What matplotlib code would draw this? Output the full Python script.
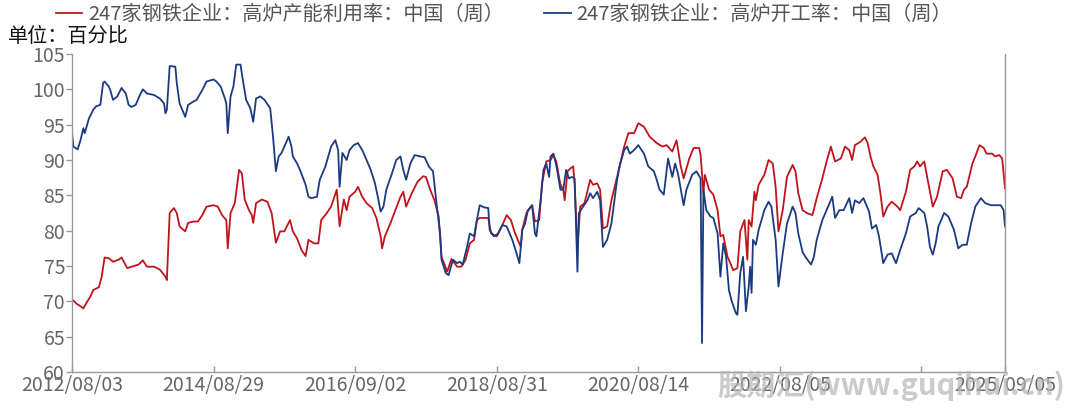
import matplotlib
matplotlib.use("Agg")
import matplotlib.pyplot as plt

plt.rcParams['font.family'] = ['Noto Sans CJK SC', 'DejaVu Sans']

# ---------------- data (weekly observation index, percent) ----------------
tick_pos = [0, 100, 200, 300, 400, 500, 600, 659]
tick_labels = ['2012/08/03', '2014/08/29', '2016/09/02', '2018/08/31',
               '2020/08/14', '2022/08/05', '', '2025/09/05']

util_idx = [0, 3, 6, 8, 10, 13, 15, 19, 21, 23, 26, 29, 33, 35, 39, 42, 47, 50, 53, 58,
            62, 66, 67, 69, 72, 74, 76, 80, 82, 86, 89, 92, 95, 100, 103, 106, 109, 110, 112, 115,
            118, 120, 122, 125, 127, 128, 130, 134, 138, 141, 144, 147, 150, 154, 156, 159, 162, 165, 167, 171,
            174, 176, 180, 183, 187, 189, 192, 194, 196, 200, 202, 205, 208, 212, 215, 218, 219, 221, 225, 228,
            232, 234, 236, 240, 244, 248, 250, 253, 256, 259, 261, 265, 268, 272, 275, 278, 281, 284, 286, 288,
            294, 296, 300, 304, 307, 310, 313, 317, 318, 321, 325, 327, 330, 332, 335, 338, 340, 342, 345, 347,
            348, 350, 352, 354, 355, 357, 359, 362, 366, 368, 371, 373, 375, 378, 381, 385, 390, 393, 397, 400,
            404, 408, 413, 417, 420, 424, 427, 430, 432, 436, 439, 443, 444, 446, 447, 450, 453, 456, 458, 460,
            463, 465, 467, 470, 472, 475, 477, 478, 480, 482, 483, 485, 489, 492, 495, 497, 499, 502, 505, 509,
            511, 513, 516, 519, 523, 526, 530, 533, 536, 539, 543, 546, 549, 551, 553, 557, 560, 562, 564, 566,
            569, 571, 573, 576, 579, 583, 585, 589, 592, 595, 597, 599, 602, 604, 608, 611, 615, 618, 622, 625,
            628, 630, 632, 636, 638, 641, 644, 646, 650, 652, 655, 657, 659]
util_val = [70.3, 69.7, 69.3, 69.0, 69.7, 70.7, 71.6, 72.0, 73.5, 76.2, 76.1, 75.6, 75.9, 76.2, 74.7, 74.9, 75.2, 75.8, 74.9, 74.9,
            74.5, 73.5, 73.0, 82.5, 83.2, 82.5, 80.6, 79.9, 81.1, 81.3, 81.3, 82.2, 83.4, 83.6, 83.4, 82.2, 81.5, 77.5, 82.5, 83.9,
            88.6, 88.1, 84.4, 82.9, 82.2, 81.1, 83.9, 84.4, 84.1, 82.5, 78.3, 79.9, 79.9, 81.5, 79.9, 78.9, 77.3, 76.4, 78.7, 78.2,
            78.2, 81.5, 82.5, 83.4, 85.8, 80.6, 84.4, 82.9, 84.8, 85.5, 86.2, 84.8, 83.9, 83.2, 81.8, 79.2, 77.5, 79.2, 81.1, 82.7,
            84.8, 85.5, 83.4, 85.3, 86.9, 87.7, 87.6, 85.8, 84.3, 82.0, 76.3, 74.2, 76.0, 74.9, 74.9, 75.9, 78.2, 78.7, 81.5, 81.8,
            81.8, 79.6, 79.2, 80.8, 82.2, 81.5, 79.6, 77.7, 80.1, 82.5, 83.6, 81.3, 81.5, 86.7, 89.8, 90.0, 90.7, 89.8, 86.5, 85.8,
            84.3, 88.4, 88.8, 89.1, 86.7, 77.7, 83.4, 83.9, 87.2, 86.5, 86.7, 85.8, 80.3, 80.6, 84.3, 87.6, 91.9, 93.8, 93.8, 95.2,
            94.7, 93.3, 92.4, 91.9, 92.1, 91.2, 92.8, 89.1, 87.4, 90.2, 91.7, 91.7, 90.7, 85.3, 87.9, 85.8, 85.1, 82.9, 79.2, 79.4,
            76.3, 75.4, 74.4, 74.7, 79.9, 81.5, 75.9, 81.5, 80.6, 85.5, 84.3, 86.5, 87.9, 90.0, 89.5, 86.2, 79.9, 82.9, 87.6, 89.3,
            88.4, 85.3, 82.9, 82.5, 82.2, 84.6, 87.4, 89.8, 91.9, 89.8, 90.2, 91.9, 91.4, 90.0, 92.1, 92.6, 93.2, 92.4, 90.5, 89.1,
            87.9, 85.3, 82.0, 83.4, 84.1, 83.4, 82.9, 85.5, 88.6, 89.1, 89.8, 89.1, 89.8, 87.6, 83.4, 84.8, 88.4, 88.6, 87.4, 84.8,
            84.6, 85.8, 86.2, 89.5, 90.5, 92.1, 91.7, 90.9, 90.9, 90.5, 90.7, 90.2, 86.0]

oper_idx = [0, 1, 4, 6, 8, 9, 12, 15, 17, 20, 22, 23, 26, 27, 29, 32, 35, 38, 40, 42,
            45, 48, 50, 53, 58, 62, 65, 66, 67, 69, 73, 74, 76, 80, 82, 86, 88, 92, 95, 100,
            102, 105, 108, 109, 110, 112, 114, 116, 119, 121, 123, 126, 128, 130, 133, 136, 140, 142, 144, 146,
            148, 150, 153, 155, 156, 159, 161, 165, 167, 169, 173, 175, 179, 181, 183, 186, 188, 189, 191, 194,
            196, 199, 202, 205, 207, 211, 214, 216, 218, 220, 222, 226, 229, 232, 234, 236, 239, 242, 246, 249,
            252, 255, 258, 260, 261, 264, 266, 269, 272, 274, 276, 279, 281, 284, 286, 288, 291, 294, 295, 298,
            301, 304, 307, 311, 314, 316, 318, 320, 322, 325, 327, 328, 331, 333, 335, 337, 338, 340, 342, 345,
            347, 349, 351, 353, 355, 357, 358, 361, 364, 366, 368, 371, 373, 375, 378, 381, 385, 387, 390, 392,
            394, 397, 400, 404, 407, 411, 413, 415, 418, 421, 424, 426, 428, 432, 434, 438, 441, 444, 445, 446,
            448, 451, 453, 456, 458, 460, 462, 464, 466, 469, 470, 472, 474, 476, 478, 479, 480, 481, 483, 485,
            489, 492, 494, 497, 499, 502, 505, 509, 511, 513, 516, 518, 522, 524, 526, 530, 533, 537, 539, 542,
            545, 549, 551, 553, 556, 559, 563, 565, 568, 570, 573, 576, 579, 582, 585, 589, 592, 596, 598, 602,
            604, 606, 608, 610, 612, 616, 619, 623, 626, 629, 632, 635, 638, 642, 645, 649, 652, 656, 658, 659]
oper_val = [93.8, 91.9, 91.5, 92.8, 94.5, 93.8, 95.9, 97.1, 97.6, 97.8, 100.9, 101.1, 100.4, 99.9, 98.5, 99.0, 100.2, 99.4, 97.8, 97.5,
            97.8, 99.2, 100.0, 99.4, 99.2, 98.7, 98.0, 96.6, 97.1, 103.3, 103.2, 100.9, 98.0, 96.1, 97.8, 98.3, 98.5, 99.9, 101.1, 101.4,
            101.1, 100.4, 98.7, 98.0, 93.8, 99.0, 100.4, 103.5, 103.5, 100.9, 98.5, 97.3, 95.4, 98.7, 99.0, 98.5, 97.3, 93.3, 88.4, 90.5,
            91.0, 91.9, 93.3, 91.9, 90.5, 89.5, 88.6, 86.5, 84.8, 84.6, 84.8, 87.2, 89.1, 90.5, 91.9, 92.8, 91.4, 86.2, 91.0, 90.0,
            91.4, 92.1, 92.4, 91.4, 90.5, 88.6, 86.7, 84.8, 82.7, 83.4, 85.8, 88.1, 90.0, 90.5, 88.6, 87.2, 89.5, 90.7, 90.5, 90.4,
            89.1, 88.4, 82.9, 79.6, 75.9, 74.0, 73.7, 75.9, 75.4, 75.6, 75.2, 77.7, 79.6, 79.2, 81.5, 83.6, 83.3, 83.2, 80.1, 79.2,
            79.6, 80.8, 80.6, 78.7, 76.8, 75.4, 80.1, 81.0, 82.9, 83.6, 79.6, 79.2, 84.3, 88.6, 89.5, 87.6, 90.5, 90.9, 89.3, 85.8,
            85.8, 88.6, 87.4, 87.6, 87.4, 74.2, 82.5, 83.4, 84.3, 85.3, 84.6, 85.5, 84.3, 77.7, 78.7, 81.0, 87.2, 89.3, 91.4, 91.9,
            90.9, 91.4, 92.1, 90.9, 89.1, 88.4, 87.2, 85.8, 85.1, 90.2, 87.6, 89.5, 88.1, 83.6, 85.8, 87.9, 88.4, 87.4, 64.1, 85.8,
            82.9, 82.0, 81.8, 79.6, 73.5, 78.2, 76.3, 71.6, 70.0, 68.3, 68.1, 74.0, 76.3, 68.6, 72.1, 74.9, 71.2, 78.7, 78.0, 80.1,
            82.9, 84.1, 83.4, 78.7, 72.1, 76.8, 81.0, 83.4, 82.5, 79.6, 77.0, 76.3, 75.2, 76.3, 78.7, 81.5, 82.9, 84.8, 81.8, 82.9,
            82.9, 84.6, 82.5, 84.3, 83.9, 84.6, 82.7, 80.3, 80.8, 79.2, 75.4, 76.6, 76.8, 75.4, 77.3, 79.6, 82.0, 82.5, 83.2, 82.5,
            80.6, 77.7, 76.6, 78.2, 80.6, 82.5, 82.0, 80.1, 77.5, 78.0, 78.0, 81.0, 83.4, 84.6, 83.9, 83.6, 83.6, 83.6, 82.9, 80.6]

util_label = '247家钢铁企业：高炉产能利用率：中国（周）'
oper_label = '247家钢铁企业：高炉开工率：中国（周）'

# ---------------- figure ----------------
W, H = 1069, 411
fig = plt.figure(figsize=(W / 100, H / 100), dpi=100)
ax = fig.add_axes([72 / W, 1 - 372 / H, (1005 - 72) / W, (372 - 54) / H])

red = '#C0141C'
blue = '#1B3A80'
ax.plot(util_idx, util_val, color=red, lw=1.3, label=util_label)
ax.plot(oper_idx, oper_val, color=blue, lw=1.3, label=oper_label)

ax.set_xlim(0, 659)
ax.set_ylim(60, 105)
ax.set_yticks(range(60, 106, 5))
ax.set_xticks(tick_pos)
ax.set_xticklabels(tick_labels)

spine_c = '#999999'
ax.spines['top'].set_visible(False)
for s in ['left', 'bottom', 'right']:
    ax.spines[s].set_color(spine_c)
    ax.spines[s].set_linewidth(1.0)

ax.tick_params(axis='y', direction='out', length=4, width=1, color=spine_c,
               labelsize=14, labelcolor='#666666', pad=1)
ax.tick_params(axis='x', direction='in', length=4, width=1, color=spine_c,
               labelsize=14, labelcolor='#666666', pad=2)

leg = fig.legend(loc='upper left', bbox_to_anchor=(56 / W, 1 - 4 / H), ncol=2,
                 frameon=False, fontsize=14.5, handlelength=1.3, handletextpad=0.3,
                 columnspacing=2.0, borderpad=0, borderaxespad=0)
for t in leg.get_texts():
    t.set_color('#555555')

fig.text(8 / W, 1 - 37 / H, '单位：百分比', fontsize=14.5, color='#111111',
         ha='left', va='center')

# watermark
fig.text(1065 / W, 1 - 386 / H, '股期汇(www.guqihui.cn)', fontsize=21,
         fontweight='bold', color='#b5b5b5', alpha=0.7, ha='right', va='center',
         style='italic')

fig.savefig('out.png', dpi=100)
